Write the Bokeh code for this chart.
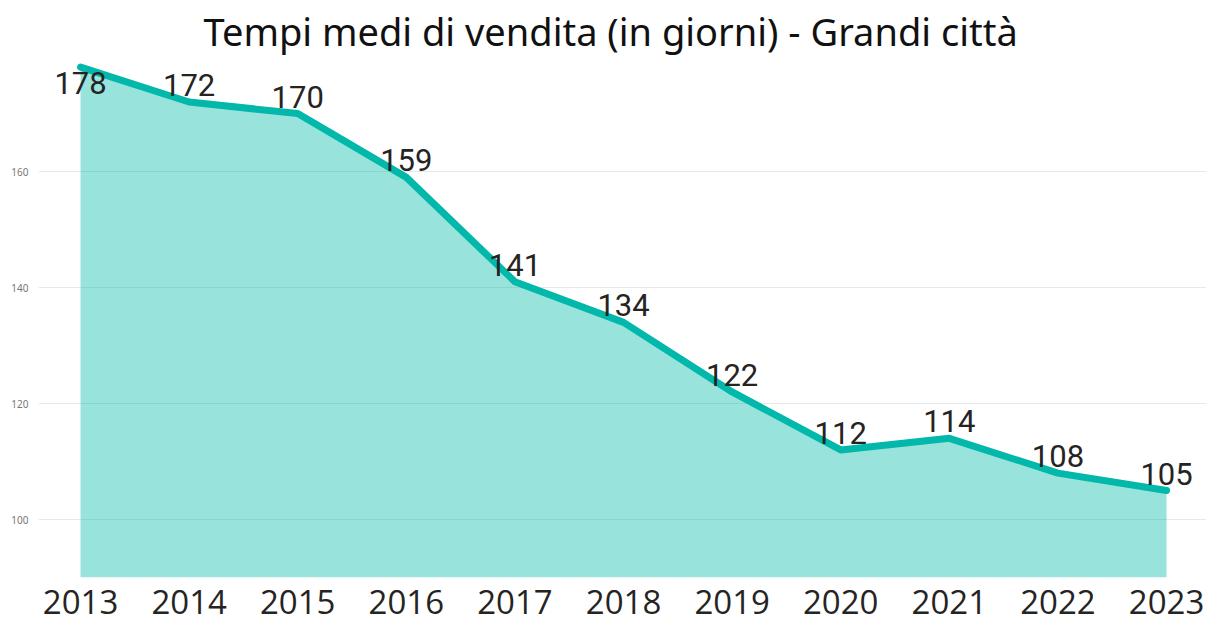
from bokeh.plotting import figure
from bokeh.models import ColumnDataSource, FixedTicker, Range1d
from bokeh.core.properties import value
from bokeh.embed import file_html
from bokeh.resources import INLINE

years = [2013, 2014, 2015, 2016, 2017, 2018, 2019, 2020, 2021, 2022, 2023]
days = [178, 172, 170, 159, 141, 134, 122, 112, 114, 108, 105]
y_ticks = [100, 120, 140, 160]
title_text = "Tempi medi di vendita (in giorni) - Grandi città"

TEAL = "#01B8AA"
Y_START, Y_END = 90, 179.5

labels = [str(d) for d in days]
offsets = [16 if d == max(days) else -17 for d in days]
src = ColumnDataSource(dict(x=years, y=days, lab=labels, off=offsets,
                            base=[Y_START] * len(years)))

p = figure(width=1206, height=621, output_backend="svg", toolbar_location=None,
           x_range=Range1d(2012.613, 2023.368), y_range=Range1d(Y_START, Y_END),
           min_border_left=38, min_border_right=0, min_border_top=0, min_border_bottom=44)
p.outline_line_color = None
p.background_fill_color = "white"
p.border_fill_color = "white"

p.title.text = title_text
p.title.align = "left"
p.title.text_font = "Noto Sans"
p.title.text_font_size = "38px"
p.title.text_font_style = "normal"
p.title.text_color = "#111111"
p.title.offset = 165
p.title.standoff = 4

p.varea(x="x", y1="base", y2="y", source=src, fill_color=TEAL, fill_alpha=0.4)
p.line(x="x", y="y", source=src, line_color=TEAL, line_width=7,
       line_join="round", line_cap="round")
p.text(x="x", y="y", text="lab", y_offset="off", source=src,
       text_font=value("Roboto"), text_font_size="31px", text_color="#252423",
       text_align="center", text_baseline="alphabetic")

p.xgrid.grid_line_color = None
p.ygrid.grid_line_color = "#E8E8E8"
p.ygrid.grid_line_width = 1
p.ygrid.level = "underlay"

p.xaxis.ticker = FixedTicker(ticks=years)
p.xaxis.axis_line_color = None
p.xaxis.major_tick_line_color = None
p.xaxis.minor_tick_line_color = None
p.xaxis.major_tick_out = 0
p.xaxis.major_tick_in = 0
p.xaxis.major_label_text_font = "Open Sans"
p.xaxis.major_label_text_font_size = "33px"
p.xaxis.major_label_text_color = "#252423"
p.xaxis.major_label_standoff = 12

p.yaxis.ticker = FixedTicker(ticks=y_ticks)
p.yaxis.axis_line_color = None
p.yaxis.major_tick_line_color = None
p.yaxis.minor_tick_line_color = None
p.yaxis.major_tick_out = 0
p.yaxis.major_tick_in = 0
p.yaxis.major_label_text_font = "Noto Sans"
p.yaxis.major_label_text_font_size = "10px"
p.yaxis.major_label_text_color = "#777777"
p.yaxis.major_label_standoff = 10

open("out.html", "w").write(file_html(p, INLINE))
